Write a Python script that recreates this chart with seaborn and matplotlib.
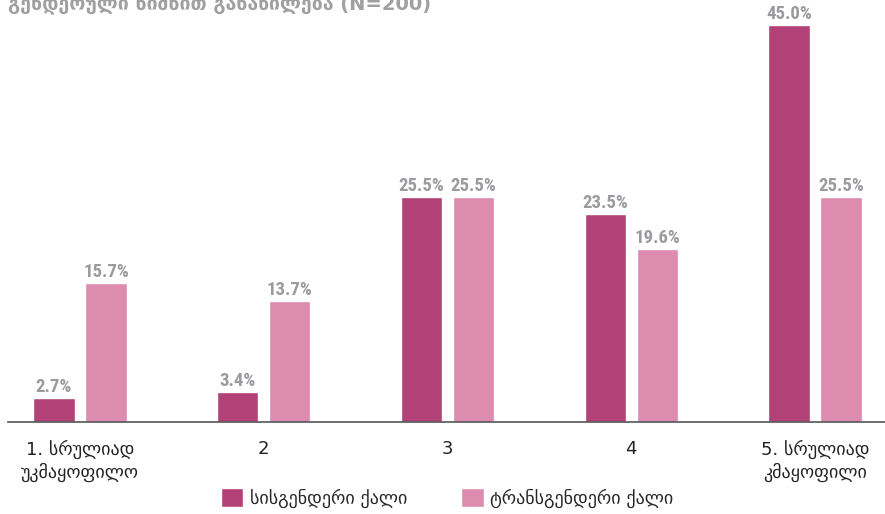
import pandas as pd
import seaborn as sns
import matplotlib.pyplot as plt

# Chart data
categories = ["1. სრულიად\nუკმაყოფილო", "2", "3", "4", "5. სრულიად\nკმაყოფილი"]
groups = ["სისგენდერი ქალი", "ტრანსგენდერი ქალი"]
cis_values = [2.7, 3.4, 25.5, 23.5, 45.0]
trans_values = [15.7, 13.7, 25.5, 19.6, 25.5]
title_text = "გენდერული ნიშნით განაწილება (N=200)"

# Colors
bar_colors = {"სისგენდერი ქალი": "#B24177", "ტრანსგენდერი ქალი": "#DE8BB0"}
label_color = "#9A9A9F"

df = pd.DataFrame({
    "category": categories * 2,
    "group": [groups[0]] * len(categories) + [groups[1]] * len(categories),
    "value": cis_values + trans_values,
})

sns.set_style("white")
plt.rcParams["font.family"] = ["DejaVu Sans"]

fig = plt.figure(figsize=(8.85, 5.14), dpi=100)
ax = fig.add_axes([8 / 885, 1 - 422 / 514, 877 / 885, 415 / 514])

sns.barplot(data=df, x="category", y="value", hue="group", order=categories,
            hue_order=groups, palette=bar_colors, width=0.566, gap=0.21,
            saturation=1, ax=ax)

for container in ax.containers:
    ax.bar_label(container, fmt="%.1f%%", padding=1.5, color=label_color,
                 fontsize=13.5, fontweight="bold",
                 family=["Roboto Condensed", "Liberation Sans Narrow", "Roboto"])

ax.set_xlim(-0.392, 4.381)
ax.set_ylim(0, 47)
ax.set_xlabel("")
ax.set_ylabel("")
ax.set_yticks([])
ax.tick_params(axis="x", length=0, labelsize=13, labelcolor="#222222", pad=13)
for side in ["top", "left", "right"]:
    ax.spines[side].set_visible(False)
ax.spines["bottom"].set_color("#555555")
ax.spines["bottom"].set_linewidth(1.2)

handles, labels = ax.get_legend_handles_labels()
ax.legend(handles, labels, ncol=2, frameon=False, loc="lower center",
          bbox_to_anchor=(0.505, -0.016), bbox_transform=fig.transFigure,
          fontsize=13, handlelength=1.25, handleheight=1.25, columnspacing=3.0,
          handletextpad=0.35, borderpad=0.3)

fig.text(8 / 885, 1 - 9 / 514, title_text, color="#A0A0A0", fontsize=14,
         fontweight="bold", ha="left", va="baseline")

fig.savefig("out.png", dpi=100)
